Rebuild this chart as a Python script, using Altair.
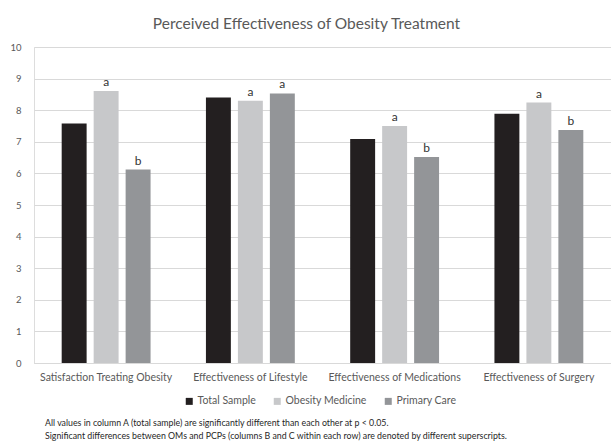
import altair as alt
import pandas as pd

categories = ["Satisfaction Treating Obesity", "Effectiveness of Lifestyle",
              "Effectiveness of Medications", "Effectiveness of Surgery"]
groups = ["Total Sample", "Obesity Medicine", "Primary Care"]
total_sample = [7.58, 8.40, 7.09, 7.89]
obesity_medicine = [8.61, 8.30, 7.50, 8.24]
primary_care = [6.12, 8.53, 6.52, 7.37]
sup_om = ["a", "a", "a", "a"]
sup_pc = ["b", "a", "b", "b"]
colors = ["#231f20", "#c7c8ca", "#939598"]
notes = ["All values in column A (total sample) are significantly different than each other at p < 0.05.",
         "Significant differences between OMs and PCPs (columns B and C within each row) are denoted by different superscripts."]

rows = []
for i, c in enumerate(categories):
    rows.append({"cat": c, "group": groups[0], "value": total_sample[i], "sup": ""})
    rows.append({"cat": c, "group": groups[1], "value": obesity_medicine[i], "sup": sup_om[i]})
    rows.append({"cat": c, "group": groups[2], "value": primary_care[i], "sup": sup_pc[i]})
df = pd.DataFrame(rows)

FONT = "Lato"
GRAY = "#595959"

x = alt.X("cat:N", sort=categories, title=None,
          scale=alt.Scale(paddingInner=0.375, paddingOuter=0.1875),
          axis=alt.Axis(labelAngle=0, labelFontSize=10.5, labelColor=GRAY, labelFont=FONT,
                        ticks=False, domainColor="#d9d9d9", labelPadding=9))
xo = alt.XOffset("group:N", sort=groups,
                 scale=alt.Scale(paddingInner=0.22, paddingOuter=0.02))
y = alt.Y("value:Q", title=None,
          scale=alt.Scale(domain=[0, 10]),
          axis=alt.Axis(values=list(range(0, 11)), ticks=False, domain=False,
                        gridColor="#d9d9d9", labelColor=GRAY, labelFontSize=9.5,
                        labelFont=FONT, labelPadding=13))

base = alt.Chart(df)
bars = base.mark_bar().encode(
    x=x, xOffset=xo, y=y,
    color=alt.Color("group:N", sort=groups,
                    scale=alt.Scale(domain=groups, range=colors),
                    legend=alt.Legend(title=None, orient="none", direction="horizontal",
                                      legendX=150, legendY=349, symbolType="square",
                                      symbolSize=49, symbolStrokeWidth=0,
                                      labelFontSize=10.5, labelColor=GRAY, labelFont=FONT,
                                      columnPadding=16, symbolOffset=0, labelOffset=3)),
)
labels = base.mark_text(dy=-9, fontSize=12, color="#333333", font=FONT).encode(
    x=x, xOffset=xo, y=y, text="sup:N")

foot = alt.Chart(pd.DataFrame({"t": ["\n".join(notes)]})).mark_text(
    align="left", baseline="middle", fontSize=8.8, color="#262626", font=FONT,
    lineBreak="\n", lineHeight=13).encode(
    x=alt.value(11), y=alt.value(376), text="t:N")

chart = alt.layer(bars, labels, foot).properties(
    width=577, height=316,
    autosize=alt.AutoSizeParams(type="none"),
    padding={"left": 34, "top": 47, "right": 0, "bottom": 79},
    title=alt.TitleParams("Perceived Effectiveness of Obesity Treatment", fontSize=15.5,
                          font=FONT, fontWeight="normal", color=GRAY, anchor="middle",
                          offset=10, dx=-16),
).configure_view(strokeWidth=0).configure(background="white")

chart.save("out.html", embed_options={"renderer": "svg", "actions": False})
